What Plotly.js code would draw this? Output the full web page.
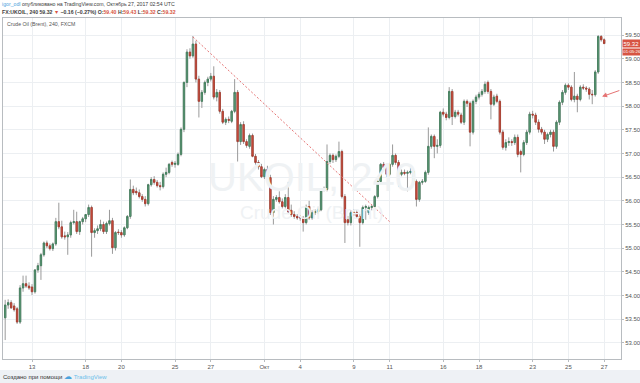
<!DOCTYPE html>
<html><head><meta charset="utf-8">
<script src="https://cdn.plot.ly/plotly-3.0.1.min.js"></script>
<style>
body{margin:0;width:640px;height:383px;overflow:hidden;background:#fff;font-family:'Liberation Sans',Arial,sans-serif;position:relative}
#footer{position:absolute;left:0;top:370px;width:640px;height:13px;background:#eef1f5}
#chart{position:absolute;left:0;top:0;width:640px;height:383px}
.t{position:absolute;white-space:nowrap;color:#3c3c3c;font-size:5.2px;line-height:7px}
.r{color:#d75442}
</style></head>
<body>
<div id="footer"></div>
<div id="chart"></div>
<div class="t" style="left:2px;top:1px"><span style="color:#4ba3dd">igor_odl</span> опубликовано на TradingView.com, Октябрь 27, 2017 02:54 UTC</div>
<div class="t" style="left:2px;top:9px;font-weight:bold">FX:UKOIL, 240 59.32 <span class="r">▼</span> −0.16 (−0.27%) O:<span class="r">59.40</span> H:<span class="r">59.43</span> L:<span class="r">59.32</span> C:<span class="r">59.32</span></div>
<div class="t" style="left:7px;top:21px;color:#555;font-size:5.2px">Crude Oil (Brent), 240, FXCM</div>
<div class="t" style="left:3px;top:373px;color:#333;font-size:6px">Создано при помощи <span style="color:#4ba3dd;font-size:8px">☁</span> <span style="color:#6cc0ea">TradingView</span></div>
<script>
// 4h bars, bar number counted from Sep 11 00:00 (6 bars per trading day)
const firstBar = 3;
const open = [
53.53,53.80,53.85,53.78,53.72,53.44,54.16,54.25,54.20,54.18,
54.08,54.54,54.63,54.86,55.11,55.05,54.99,55.09,55.56,55.45,
55.26,55.24,55.28,55.54,55.56,55.35,55.56,55.62,55.71,55.86,
55.33,55.37,55.41,55.50,55.35,55.52,55.58,55.01,55.34,55.33,
55.28,55.43,55.67,56.24,56.20,56.17,56.09,56.03,55.94,56.34,
56.45,56.39,56.32,56.30,56.56,56.60,56.81,56.77,56.77,56.98,
57.51,58.50,59.14,59.06,59.31,58.57,58.10,58.29,58.50,58.57,
58.63,58.19,58.29,57.89,57.66,57.72,57.68,57.89,58.29,57.25,
57.61,57.25,57.15,57.38,56.94,56.81,56.72,56.51,56.66,56.49,
55.75,56.03,56.07,55.98,55.88,56.07,55.80,55.71,55.67,55.66,
55.64,55.54,55.88,55.64,55.75,55.77,55.81,56.26,56.24,56.83,
56.96,56.87,56.94,57.04,56.09,55.60,55.54,55.75,55.75,55.67,
55.54,55.86,55.75,55.86,55.88,56.09,56.41,56.77,56.70,56.56,
56.77,56.96,56.81,56.56,56.60,56.58,56.60,56.62,56.41,56.03,
56.39,56.41,56.60,57.15,57.36,57.15,57.17,57.87,57.83,57.76,
58.31,57.78,57.87,57.81,57.66,58.10,58.06,57.45,58.10,58.19,
58.25,58.31,58.50,58.31,58.04,58.21,58.10,57.45,57.13,57.23,
57.25,57.23,57.34,57.04,56.98,57.23,57.45,57.83,57.81,57.66,
57.51,57.45,57.30,57.40,57.45,57.15,57.66,58.08,58.29,58.44,
58.40,58.14,58.21,58.14,58.40,58.38,58.36,58.25,58.24,58.72,59.47,59.40];
const high = [
53.91,53.92,53.90,53.84,53.76,54.22,54.42,54.42,54.28,54.24,
54.56,54.69,54.90,55.14,55.16,55.10,55.12,55.64,55.96,55.58,
55.35,55.34,55.58,55.81,55.77,55.58,55.66,55.72,55.92,55.90,
55.42,55.48,55.60,55.56,55.56,55.81,55.64,55.36,55.40,55.38,
55.46,55.70,56.45,56.32,56.28,56.24,56.14,56.10,56.36,56.50,
56.52,56.44,56.40,56.60,56.70,56.80,56.85,56.84,57.02,57.55,
58.52,59.20,59.22,59.48,59.38,58.64,58.34,58.54,58.62,58.70,
58.84,58.36,58.34,57.94,57.76,57.78,57.92,58.57,58.34,57.66,
57.68,57.30,57.42,57.42,56.99,56.86,56.78,56.70,56.74,56.55,
56.10,56.12,56.20,56.05,56.14,56.40,55.92,55.78,55.72,55.70,
55.68,55.92,56.00,55.80,55.82,55.86,56.26,56.30,57.19,57.00,
57.00,56.98,57.25,57.08,56.14,55.68,55.80,55.82,55.80,55.72,
55.90,55.92,55.90,55.92,56.12,56.45,56.80,56.82,56.76,56.80,
57.19,57.00,56.86,56.66,56.66,56.64,56.70,56.66,56.45,56.42,
56.46,56.64,57.55,57.40,57.40,57.30,57.90,57.95,57.88,58.40,
58.36,57.92,57.92,57.86,58.14,58.14,58.10,58.14,58.24,58.30,
58.36,58.52,58.54,58.36,58.24,58.26,58.14,57.50,57.30,57.34,
57.30,57.40,57.40,57.08,57.28,57.50,57.88,57.90,57.86,57.72,
57.56,57.50,57.44,57.50,57.50,57.70,58.12,58.34,58.48,58.48,
58.44,58.72,58.26,58.44,58.46,58.42,58.40,58.34,58.76,59.50,59.50,59.43];
const low = [
53.06,53.72,53.72,53.66,53.40,53.40,54.08,54.16,54.12,54.01,
54.04,54.48,54.33,54.82,55.00,54.95,54.94,55.05,55.40,55.20,
55.18,54.86,55.22,55.50,55.30,55.28,55.50,55.55,55.66,54.82,
55.22,55.30,55.36,55.30,55.30,55.48,54.88,54.95,55.28,55.22,
55.24,55.40,55.62,56.12,56.12,56.05,55.98,55.88,55.90,56.30,
56.34,56.28,56.22,56.26,56.50,56.56,56.72,56.70,56.74,56.94,
57.45,58.40,59.00,59.02,58.50,57.76,57.96,58.24,58.42,58.52,
58.14,58.10,57.84,57.62,57.60,57.64,57.64,57.85,56.83,57.18,
57.20,57.12,57.10,56.92,56.76,56.66,56.48,56.46,56.44,55.70,
55.50,55.98,55.94,55.84,55.84,55.72,55.66,55.62,55.60,55.58,
55.35,55.50,55.60,55.60,55.70,55.72,55.78,56.20,56.20,56.78,
56.80,56.82,56.90,56.05,55.11,55.48,55.48,55.68,55.62,55.03,
55.50,55.60,55.70,55.80,55.84,56.05,56.38,56.66,56.50,56.52,
56.72,56.76,56.30,56.52,56.54,56.20,56.56,56.36,55.88,55.98,
56.34,56.38,56.55,57.10,56.90,57.00,57.12,57.78,57.70,57.72,
57.60,57.74,57.78,57.62,57.60,57.98,57.15,57.40,58.04,58.14,
58.20,58.26,58.26,57.72,58.00,58.06,57.40,57.08,57.06,57.16,
57.16,57.18,56.92,56.60,56.94,57.18,57.40,57.74,57.60,57.44,
57.40,57.20,57.24,57.34,57.04,57.10,57.60,58.02,58.24,58.34,
58.10,58.08,57.87,58.10,58.34,58.30,58.14,58.04,58.20,58.68,59.36,59.32];
const close = [
53.80,53.85,53.74,53.70,53.44,54.16,54.25,54.20,54.16,54.08,
54.54,54.63,54.86,55.11,55.05,54.99,55.09,55.56,55.45,55.24,
55.24,55.28,55.54,55.56,55.35,55.56,55.62,55.71,55.86,55.33,
55.37,55.41,55.50,55.35,55.52,55.58,55.01,55.33,55.33,55.28,
55.43,55.67,56.24,56.17,56.17,56.09,56.03,55.94,56.34,56.45,
56.39,56.32,56.30,56.56,56.60,56.77,56.77,56.79,56.98,57.51,
58.50,59.14,59.06,59.31,58.57,58.10,58.29,58.50,58.57,58.63,
58.19,58.29,57.89,57.66,57.72,57.70,57.89,58.29,57.25,57.61,
57.25,57.17,57.38,56.94,56.81,56.72,56.51,56.66,56.49,55.75,
56.03,56.07,55.98,55.88,56.07,55.77,55.71,55.67,55.64,55.64,
55.54,55.88,55.64,55.75,55.77,55.81,56.24,56.24,56.83,56.96,
56.87,56.94,57.04,56.09,55.54,55.54,55.75,55.73,55.67,55.54,
55.86,55.88,55.86,55.88,56.09,56.41,56.77,56.70,56.56,56.77,
56.96,56.81,56.56,56.60,56.58,56.60,56.62,56.41,56.03,56.39,
56.41,56.60,57.15,57.36,57.15,57.17,57.87,57.83,57.76,58.31,
57.78,57.87,57.83,57.66,58.10,58.06,57.45,58.10,58.19,58.25,
58.31,58.46,58.31,58.04,58.19,58.10,57.45,57.13,57.23,57.25,
57.23,57.34,56.98,56.98,57.23,57.45,57.83,57.81,57.66,57.51,
57.45,57.30,57.40,57.45,57.15,57.66,58.08,58.29,58.44,58.40,
58.14,58.21,58.14,58.40,58.38,58.36,58.25,58.24,58.72,59.47,59.40,59.32];

const tickBars = [12,30,42,60,72,90,102,120,132,150,162,180,192,204];
const tickLabels = ['13','18','20','25','27','Окт','4','9','11','16','18','23','25','27'];
const priceTicks = [53,53.5,54,54.5,55,55.5,56,56.5,57,57.5,58,58.5,59,59.5];

// drawing: trend line and arrow
const trendBars = [66, 132];
const trendPrices = [59.46, 55.56];
const arrowTip = {bar: 203.3, price: 58.20};
const arrowTail = {bar: 209.6, price: 58.34};
const lastPrice = 59.32;
const countdown = '01:05:26';

const bars = open.map((_, i) => firstBar + i);
const bodyHigh = open.map((o, i) => Math.max(o, close[i]));
const bodyLow = open.map((o, i) => Math.min(o, close[i]));

const UP = '#64a07d', UPL = '#3f7d5a', DN = '#d75442', DNL = '#a83a2c', WICK = '#9a9a9a';

const traces = [
  { type: 'candlestick', x: bars, open: open, high: high, low: low, close: close,
    increasing: {line: {color: WICK, width: 1}, fillcolor: WICK},
    decreasing: {line: {color: WICK, width: 1}, fillcolor: WICK},
    hoverinfo: 'skip', showlegend: false },
  { type: 'candlestick', x: bars, open: open, high: bodyHigh, low: bodyLow, close: close,
    increasing: {line: {color: UPL, width: 0.8}, fillcolor: UP},
    decreasing: {line: {color: DNL, width: 0.8}, fillcolor: DN},
    hoverinfo: 'skip', showlegend: false },
  { type: 'scatter', mode: 'lines', x: trendBars, y: trendPrices,
    line: {color: '#e57373', width: 1, dash: '2px,2px'}, hoverinfo: 'skip', showlegend: false }
];

const layout = {
  width: 640, height: 383,
  margin: {l: 3, r: 19, t: 18, b: 24},
  paper_bgcolor: 'rgba(0,0,0,0)', plot_bgcolor: '#ffffff',
  boxgap: 0.35,
  font: {family: 'Liberation Sans, Arial, sans-serif', size: 6, color: '#555'},
  xaxis: {
    range: [2.27, 209.65], rangeslider: {visible: false},
    tickmode: 'array', tickvals: tickBars, ticktext: tickLabels,
    showgrid: true, gridcolor: '#eceff2', gridwidth: 1, zeroline: false,
    showline: true, linecolor: '#b8bcc0', linewidth: 1, mirror: true,
    ticks: 'outside', ticklen: 2, tickcolor: '#b8bcc0',
    tickfont: {size: 6, color: '#555'}, fixedrange: true
  },
  yaxis: {
    side: 'right', range: [52.66, 59.86],
    tickmode: 'array', tickvals: priceTicks, ticktext: priceTicks.map(v => v.toFixed(2)),
    showgrid: true, gridcolor: '#eceff2', gridwidth: 1, zeroline: false,
    showline: true, linecolor: '#b8bcc0', linewidth: 1, mirror: true,
    ticks: 'outside', ticklen: 2, tickcolor: '#b8bcc0',
    tickfont: {size: 6, color: '#555'}, fixedrange: true
  },
  annotations: [
    {xref: 'paper', yref: 'paper', x: 0.5, y: 0.535, text: 'UKOIL, 240', showarrow: false,
     font: {size: 40, color: '#eff2f4', family: 'Liberation Sans, Arial, sans-serif'}},
    {xref: 'paper', yref: 'paper', x: 0.5, y: 0.43, text: 'Crude Oil (Brent)', showarrow: false,
     font: {size: 19, color: '#eff2f4', family: 'Liberation Sans, Arial, sans-serif'}},
    {x: arrowTip.bar, y: arrowTip.price, ax: arrowTail.bar, ay: arrowTail.price,
     xref: 'x', yref: 'y', axref: 'x', ayref: 'y', text: '', showarrow: true,
     arrowhead: 2, arrowsize: 1, arrowwidth: 1, arrowcolor: '#e57373'},
    {xref: 'paper', yref: 'y', x: 1, y: lastPrice, xanchor: 'left', yanchor: 'middle',
     text: lastPrice.toFixed(2), showarrow: false, bgcolor: DN, borderpad: 0.5,
     font: {size: 6, color: '#ffffff'}, xshift: 1},
    {xref: 'paper', yref: 'y', x: 1, y: lastPrice, xanchor: 'left', yanchor: 'middle',
     text: countdown, showarrow: false, bgcolor: DN, borderpad: 0.3,
     font: {size: 4.4, color: '#ffffff'}, xshift: 0.5, yshift: -8}
  ]
};

Plotly.newPlot('chart', traces, layout, {staticPlot: true, displayModeBar: false});
</script>
</body></html>
